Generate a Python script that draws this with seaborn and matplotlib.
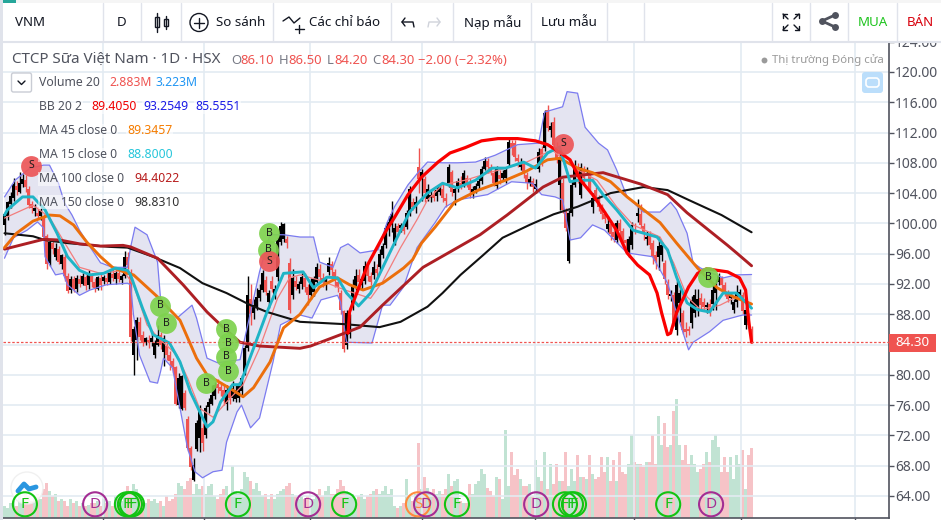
import matplotlib
matplotlib.use('Agg')
import numpy as np
import seaborn as sns
from matplotlib import pyplot as plt
from matplotlib.patches import Rectangle, Circle, FancyBboxPatch

# daily candles
opens = [99.8,101,102.6,103.4,105,104.2,105.2,105.7,104.6,102.6,
         101.6,101.4,101,100.8,98.4,94.8,97.4,95.6,96.6,94.6,
         95.6,93,91.2,92.6,91.3,92.6,92,92.9,91.8,93.2,
         92.3,91.4,92.8,92.4,92.8,92.2,93.3,92.6,93.4,92.5,
         93,95.6,93.6,82.6,84.6,87,85.2,84.4,84.6,84.4,
         82.6,84,85.2,83,83.8,82.6,81.8,81,76,75.5,
         77.6,74.2,70.3,66.1,70.2,71.6,73,72,75.8,76.2,
         77.2,78.8,78.4,78,76.2,78,77,76.8,77,77.8,
         80.4,83.6,90,88.2,89,90.2,91.2,92.5,89.6,92.4,
         90.4,92.9,97.6,98,98,94.8,90.5,92.4,91.4,92,
         92.8,91.6,90.6,91,92.3,94,92.8,91.8,93.6,94.6,
         93.6,92.2,90.8,88.4,83.9,85.4,89,91.6,93.2,91.8,
         92.4,94.2,93,93.2,94,94.2,95.8,97.2,99.2,99.8,
         97.6,99.6,99.4,99.6,99.5,101.4,102.8,102.4,107.5,105.8,
         105.8,103.2,103.3,103.8,103.6,104.2,104.6,103.4,105.1,106.8,
         104,104.6,105.4,105.2,106,105.2,104.2,104.4,105,105.6,
         107.2,108.2,107.4,106.6,105,106.4,106,106,107.8,110.6,
         110.6,108.6,107.4,107.8,106.4,105.4,105.6,104.6,107.2,109.8,
         110,115,112.4,113.4,110,105.1,105.4,101.8,95,101.4,
         105.1,107.4,103.8,107.2,106.8,106.4,102.2,104.4,103.4,102.2,
         101.2,99.2,99.9,98.8,97.8,100,99,97.8,96.2,97.2,
         99.8,101,101.2,99.6,98,98.4,97.4,95.8,95.6,95.8,
         94.8,92,90.4,90.6,85.9,89.5,88.2,86,86,86.8,
         88.2,89,90.2,89.6,89,89.4,89.4,90.8,92.3,92.8,
         91.8,90.8,90.2,88.6,89.6,90.7,90.6,86.6,88,86.1]
closes = [101.2,102.8,103.6,105.2,104.4,105.4,105.9,104.8,102.4,102,
          102,101,101.6,98.2,94.6,97.6,96.6,96.8,94.9,95.8,
          93,91.1,92.6,91.4,92.8,92,93,91.7,93.4,92.2,
          91.5,92.9,91.8,92.9,92.2,93.4,92.8,93.5,92.6,93.1,
          95.6,94.5,85,86,87.2,85,84.2,84.8,84.4,84.8,
          84.2,85.2,84,84.8,82.6,81.8,81,76.2,79.6,79.8,
          75.6,70.4,67.8,68.1,73.6,75.4,71,75.6,76.4,77.4,
          78.6,78.2,77.8,76.6,78,77,78.2,78,78.6,79.6,
          83.5,90.5,88,89.2,90.3,91.2,93.4,91,90.8,91.4,
          91.4,97.8,99.6,99.9,97.4,88.6,92.8,91.6,92,92.9,
          91.6,90.6,92.4,92.6,94.3,92.9,92.2,92.8,94.8,93.8,
          92.4,91.6,88.6,83.4,88.1,87.6,91.8,93,92.2,92.6,
          94.4,93,92.2,94.2,93.4,96,97,99.4,100.2,101.2,
          99.4,98.9,99.8,99,101.4,104.6,102.2,102.8,105.8,106.8,
          104,104.6,103.8,103.4,104.4,104.8,103.4,103,107.4,104.2,
          104.6,105.6,105,106.6,105.2,104.4,104.6,105,105.6,107.2,
          108.2,107.4,106.8,105.4,107.2,105.8,106.6,107,110.8,110,
          108.8,108.2,108,106.6,105.4,105.8,104.8,105.2,109.4,108.2,
          114.6,112.6,112.9,110.4,108.6,108.6,101.8,99.4,101.4,105.1,
          107.5,106.4,107.5,106,107,104.6,103.4,103.4,102.2,101.2,
          100.6,99.9,98.6,98.2,100,99,97.8,97.4,98,99.8,
          99.6,101.4,99.8,98.6,98.2,97.2,95.6,95,97,97.2,
          92.6,90.6,90.7,87,91.9,90.8,85.9,85.6,85.8,89.9,
          90.6,90,89.2,89,89.2,88.4,91.2,92.1,93,91.8,
          90.8,90,90.8,89.6,91,91,88.4,88.6,86.6,84.3]
highs = [101.5,103,104.2,106,105.6,106.8,106.5,106.4,105,103,
         102.5,102.2,102,101.2,98.6,97.8,98,97.4,97,96,
         96,93.4,93,93,93.2,93.2,93.4,93.2,93.9,93.4,
         92.8,93,93.4,93.2,93.6,93.8,94,93.8,93.8,93.3,
         96.4,96.2,94,86.4,87.6,87.6,85.8,85,85.2,85.4,
         84.6,86.6,85.6,85.2,84.2,83.2,82.2,81.2,80.2,80,
         78,74.5,70.6,69,74,76,73.6,76,77,78.6,
         79,79.4,79,78.8,78.6,78.6,79.2,78.8,79,80,
         84,93,92,90,91.5,92,93.8,93,91.2,93,
         91.8,98.2,100.2,100,98.4,95.4,94,93,92.4,93.4,
         93.4,92,92.8,93,94.8,94.6,93.4,93,95.6,95,
         94,92.6,91.2,88.6,88.6,88,92.6,94,94,93,
         95,95,93.6,95,94.6,96.6,97.4,99.8,101,103,
         100,100,100,100,101.8,105,103.4,103.6,110,107.2,
         106.2,105.2,104.4,104.4,105,105.2,105.2,104,107.8,107,
         105,106,106.2,107,106.4,106,105,105.4,106,107.6,
         108.8,108.6,107.8,107,107.6,107,107,107.4,111.4,111,
         111,109.2,108.6,108.2,106.8,106.2,106,105.8,110,110.2,
         115,115.6,113.4,114,110.8,109.4,106,102,101.8,105.6,
         108.4,108,108,107.6,107.4,106.6,104,104.8,103.8,102.6,
         101.6,101,100.4,100,100.4,100.6,99.4,98,98.4,100.2,
         100,103.2,102.6,100,99,99,97.8,96.4,98.2,97.6,
         95.2,92.6,91.2,91,92.4,91.4,88.6,87,86.4,90.4,
         91.4,91.4,90.8,90.2,89.6,90,91.8,92.6,93.4,93,
         92.2,91.2,91,90,91.8,91.4,91,89,88.2,86.5]
lows = [98.5,100.5,102,103,103.8,104,104.8,104.2,102,101.4,
        101,100.6,100.4,97.8,94,94.4,96,95.2,94.6,94,
        92.4,90.8,90.8,91,91,91.6,91.8,91.2,91.4,91.6,
        91,91.2,91.2,92,91.9,92,92.4,92,92.2,92,
        92.8,94,84.5,80,82,84.6,83.8,84,83.6,83.8,
        82.2,83.8,83.4,81.2,82,80.6,80.2,76,75.6,75.3,
        75.4,70,67.4,66,70,69.8,70,71.6,75,76,
        76.8,77.6,77.2,76,75.4,76.2,76.6,76.4,76.4,77.4,
        80,83.2,86.6,87.4,88.6,89.8,91,90.6,88.8,91,
        90,92.4,97.2,97.6,96.8,88.2,90,91.2,90.8,91.4,
        91,89.2,90,90.4,92,92.4,91.6,91.2,93.2,93,
        91.6,91,88,83,83.4,84.8,88.6,91.2,91.6,91.2,
        92,92.4,91.8,92.6,93,93.8,95.4,96.8,98.4,98.8,
        97.2,98.4,98.9,98.6,99.2,101,101.8,101.4,104,103,
        102.8,103,102.8,103,103,103.8,102.8,102.2,104.8,103.6,
        102.4,104.2,104.6,104.8,104.8,103.4,103.4,104,104.6,105.2,
        107,106.6,106.4,105,104.6,105.2,105.6,105.4,107.4,109,
        108.2,107.4,107,106,104.6,105,104.2,104,106.8,107.6,
        109.6,112.2,111.4,110,108,101.8,101.4,99,94.8,101,
        104.8,105.4,103.4,105.4,106.4,104,101.4,103,101.6,100.6,
        100,98.8,97.8,97.6,97.4,98.4,97,96.8,95.6,96.6,
        98.6,100.2,99.4,97.8,97.2,96.6,94.6,94,93.8,95,
        92,90,89.8,86.4,85.2,87,85.4,85,85.2,86.2,
        87.6,87.8,88.6,88.4,88.2,87.8,88.6,88.6,91.8,91.2,
        90.4,89.6,89.4,88.2,89,90.4,88,86,86.2,84.2]
# volume in millions
volumes = [.5,.4,.6,.7,.5,.9,.8,1.0,.9,.7,
           .9,1.0,.8,1.2,1.45,1.1,.9,1.0,.7,.8,
           .7,.5,.8,.6,.7,.5,.6,.5,.55,.6,
           .6,.7,.5,.8,.6,.7,.5,.9,.8,.7,
           1.0,1.3,1.1,1.4,1.2,.9,.7,.6,.8,.7,
           .8,.6,.7,.5,.9,.7,.8,1.0,1.45,1.3,
           1.2,1.5,1.65,1.0,1.4,1.2,1.3,1.0,1.3,1.4,
           .9,.8,1.0,1.2,1.3,.9,2.15,1.1,1.0,1.2,
           1.9,1.7,1.5,1.2,1.45,1.1,.9,1.0,.8,1.0,
           .8,1.0,1.1,1.2,1.3,1.45,1.0,.9,.8,.9,
           .8,.9,.7,.8,1.0,1.2,.9,1.1,1.3,1.0,
           1.0,1.2,1.55,1.3,1.1,1.0,1.0,.8,.9,1.0,
           .8,.9,1.0,1.1,1.2,1.0,1.1,1.3,1.0,1.2,
           .5,.4,.5,.6,1.6,.9,.7,1.0,3.1,1.2,
           1.7,1.25,1.0,1.2,1.0,1.1,1.0,1.2,1.8,1.3,
           1.5,1.6,.7,.6,.6,1.4,1.0,1.4,1.5,2.0,
           1.8,1.25,1.1,.9,1.7,1.6,.8,3.6,1.3,2.7,
           1.75,2.0,1.6,1.3,1.3,1.4,.9,2.4,1.7,1.5,
           2.7,1.2,2.2,1.4,2.2,1.5,1.5,2.7,1.3,2.0,
           1.5,2.6,1.7,1.7,1.6,2.6,1.8,1.6,1.7,2.5,
           1.9,2.5,1.5,2.4,1.5,2.7,1.9,1.8,2.2,3.4,
           2.3,2.2,2.2,2.1,2.3,2.3,3.4,2.2,4.2,3.0,
           3.9,2.9,3.0,4.4,4.9,3.0,2.4,3.0,2.2,2.6,
           2.2,1.9,2.0,2.2,2.7,2.3,3.2,3.4,2.9,1.9,
           2.5,1.9,2.5,1.6,2.6,2.2,2.8,1.2,2.6,2.883]

# indicator lines: bar number, value
ma150_bars = [0,9.5,13.5,21,35,41,49.5,58.5,66,74,82,87.5,98.5,113,125,132,141,146,152,159.5,166,175,183,191,202,213,221,228,239,249]
ma150_vals = [98.7,98.3,97.8,97.4,96.9,96.8,95.6,94.1,92.1,90.8,89.2,88.3,87.0,86.7,86.3,87.0,89.0,90.8,93.2,95.8,98.1,99.8,101.2,102.2,104.0,104.8,104.4,103.1,101.1,98.83]
ma100_bars = [0,5,13,18.5,25,32,39.5,42,51,59.5,67.5,72,78.5,85,98.5,102,112,118.5,126,139.5,151,158.5,167.5,179.5,186,199.5,212,221,227.5,241,244,249]
ma100_vals = [96.6,97.1,97.9,97.8,97.3,97.0,97.1,96.9,95.4,91.9,88.3,86.6,84.3,83.8,83.5,83.8,85.3,86.3,89.2,94.2,96.8,98.5,101.1,104.8,106.1,106.7,105.2,103.8,101.4,97.1,96.1,94.4]
ma45_bars = [0,4,9.5,15,18.5,23,27.5,32,36,41,43,51,58.5,64,67.5,76,79.5,83,88.5,93,98.5,105,111,115,119.5,126,133,136,139,143.5,150,158,167,173.5,181,185,191,196,202,207.5,213,218.5,224,231,237.5,243,249]
ma45_vals = [96.8,98.7,100.3,101.1,101.0,99.8,97.5,95.6,94.2,93.4,93.2,90.3,87.2,82.2,80.0,78.0,77.1,78.3,81.7,86.2,88.0,91.6,92.8,91.9,91.2,92.1,94.1,95.2,97.4,99.5,102.8,104.4,105.7,106.8,108.4,108.6,107.3,106.7,105.5,103.5,101.8,100.1,97.4,94.1,91.5,90.3,89.35]
ma15_bars = [0,1,6,9.5,13.5,17.5,21,25,28.5,33,37,41,42,46,49.5,55,58.5,62,67.5,69.5,72,76,78.5,83,87.5,93,99.5,103,107.5,111,114,118,122,128.5,135,141,146,151,157,162.5,167,173,177,181,185,188.5,191,196,199.5,204,209.5,217.5,221,224,227.5,231,235,239.5,244,249]
ma15_vals = [101.1,101.8,103.5,103.5,101.8,98.7,95.6,93.8,93.2,93.4,94.1,93.8,93.2,88.8,85.3,84.2,81.7,77.7,73.1,73.8,76.4,78.7,78.7,83.5,88.3,93.4,93.6,91.5,92.9,92.8,90.8,89.1,90.8,96.2,101.5,104,105.3,104.7,105.7,107.3,107.3,108.1,107.3,109.3,110.1,105.5,105.7,105.7,103.8,101.8,99.1,98.2,96.5,92.9,89.5,88.6,88.3,90.8,90.8,88.8]
bb_mid_bars = [0,9.5,15,19.5,25,32,39.5,43,47.5,51,57.5,61,65,69.5,74,79.5,85,91,95,98.5,105,113.5,122,126,132,137.5,141,146,153.5,162.5,173.5,182.5,190,197.5,204,209.5,218.5,223,227.5,232,238.5,244,249]
bb_mid_vals = [100.7,102.4,100.8,97.8,94.2,93.4,93.8,91.9,86.6,85,82.6,79.6,75.6,74.4,76.4,78.7,83.5,90.1,92.8,93.2,92.5,91.2,90.1,92.3,96.8,100.5,103.1,105.1,105.7,106.8,108,109.7,107.3,105.7,102.2,99.8,98.2,94.8,90.3,88.6,89.2,90.3,89.4]
bb_up_bars = [0,3.5,8.5,13,15,18,20,22.5,25,28.5,32,36,41,42,43.5,47.5,51,52,57.5,62.5,64,67.5,71,78.5,85,88.5,93,98.5,103,105,109.5,112,114.5,118.5,124.5,127.5,130,134.5,138,141,146,151,157,163.5,171,178,180,186,187.5,191,193.5,198,201,204,207.5,213,218.5,222,224,227.5,229.5,232,239.5,244,249]
bb_up_vals = [103.5,105.7,107.3,107.7,107.7,105.3,102.7,101.1,99.1,96.9,94.8,94.2,94.2,96.8,99.5,98.5,94.9,90.1,87.5,89.2,87.5,82.2,81.6,82,93.6,98.5,98.5,98.2,98.2,94.9,94.2,96.8,97.3,96.1,96.5,100.1,102.2,105.1,106.8,108.1,108,108,108.1,109,110.4,110.6,114.7,115.4,117.4,117.2,112.7,110.6,109.7,107.1,103.5,101.5,101.5,102.8,101.8,98.7,94.8,94.1,92.8,93.2,93.25]
bb_low_bars = [0,3,7.5,11,13,13.5,17,19.5,21,25,28.5,34,41,42,43,45,48.5,51,52,53,56,61,63.5,66,69.5,72.5,74,77.5,79,82,85,89.5,92,94,98.5,102.5,105.5,111,112,114,122.5,126,128.5,133,137.5,143.5,147,151,161,169,176,179,183.5,186,188.5,192,196,200,207.5,216,221,224,228,229.5,235,239.5,246,249]
bb_low_vals = [95.4,98.1,99.1,100.2,99.4,95.6,93.2,93.4,91.9,90.5,91.2,91.9,92.1,91.9,87.9,82.6,79.1,78.9,80.4,82.2,80.9,70.3,67.2,66.4,67.2,67.4,71.1,75.1,76,73,74.3,81.7,86.6,87,87.9,87.5,89.9,90.5,89.6,84.3,84.2,89.2,89.2,91.6,96.8,100.1,102.2,103.1,103.8,105.5,105.3,103.8,103.5,103.1,97.8,98.1,99.8,99.1,96.1,95.6,92.1,88.2,83.3,84.3,85.7,87.2,87.9,87.9]
drawn_bars = [114.5,115,117.5,121,127,130,134.5,139,144.5,148.5,153.5,159,164.5,171,177,181,185,188.5,192,196,199.5,204,207.5,211,215,217.5,219,221,222,224,228,231,234,241,245,247,248,249]
drawn_vals = [85.5,88.3,90.9,94.5,98.9,100.8,103.8,106.1,108.1,109.3,110,110.9,111.2,111.2,110.9,110.4,109.4,108.4,105.7,103.8,101.8,99.1,96.1,94.5,93.2,90.8,88.2,85.3,85.5,88.2,91.6,93.4,94,93.6,92.8,91.2,87.2,84.3]

# buy / sell signals
sig_bars = [8.8,51.8,53.8,73.8,74.5,73.8,74.5,67.2,88.2,87.8,88.2,186.2,234.5]
sig_vals = [107.6,89.1,86.8,86.0,84.2,82.4,80.5,78.9,98.7,96.5,95.0,110.5,92.9]
sig_text = ['S','B','B','B','B','B','B','B','B','B','S','S','B']
# draw order in the screenshot
sig_order = [0,1,2,3,5,4,6,7,9,8,10,11,12]

# events along the bottom
event_bars = [6.8,30.2,40.8,41.8,42.5,77.8,101.2,113.2,137.8,140.5,150.8,177.2,186.8,188.8,189.8,221.2,235.5]
event_text = ['F','D','F','F','F','F','D','F','S','D','F','D','F','F','F','F','D']
event_level = 62.9

price_ticks = list(range(64, 128, 4))
month_ticks = [32.8,66.5,101.8,139.2,176.8,209.8,245.5,283.5]
last_close = 84.30

sns.set_theme(style='white')
plt.rcParams['font.family'] = ['Noto Sans', 'DejaVu Sans']

RED = '#ef5350'
fig = plt.figure(figsize=(9.41, 5.2), dpi=100, facecolor='white')
pos = [3/941, (520-518)/520, 886/941, 477/520]
vol = fig.add_axes(pos, zorder=1)
ax = fig.add_axes(pos, zorder=2)
ax.patch.set_alpha(0)

bars = np.arange(len(closes))
direction = ['up' if c >= o else 'down' for o, c in zip(opens, closes)]

# one bar per day, the width has to close the gap between days
vol.bar(bars, volumes, width=1.0, lw=0,
        color=['#c1e3d3' if d == 'up' else '#f6c3c7' for d in direction])
vol.set_xlim(-0.5, 294.8)
vol.set_ylim(0, 19.6)
vol.set_xticks([])
vol.set_yticks([])
sns.despine(ax=vol, left=True, right=True, top=True, bottom=True)

# bollinger cloud
ax.fill(bb_up_bars + bb_low_bars[::-1], bb_up_vals + bb_low_vals[::-1],
        color='#e4e4f1', lw=0, zorder=1)

# candles
for i in bars:
    col = 'black' if closes[i] >= opens[i] else RED
    ax.vlines(i, lows[i], highs[i], color=col, lw=1, zorder=2)
    ax.bar(i, abs(closes[i]-opens[i]), bottom=min(opens[i], closes[i]), width=0.95, color=col, lw=0, zorder=2)

def line(xs, ys, color, lw):
    sns.lineplot(x=xs, y=ys, color=color, lw=lw, sort=False, estimator=None, ax=ax, zorder=3)

line(bb_up_bars, bb_up_vals, '#7b7bf0', 0.9)
line(bb_low_bars, bb_low_vals, '#7b7bf0', 0.9)
line(bb_mid_bars, bb_mid_vals, '#f27d7d', 0.9)
line(ma150_bars, ma150_vals, '#111111', 1.5)
line(ma100_bars, ma100_vals, '#ad1f24', 2.1)
line(ma45_bars, ma45_vals, '#ec6f0c', 2.1)
line(ma15_bars, ma15_vals, '#1fb4c6', 2.1)
line(drawn_bars, drawn_vals, '#fa0000', 2.3)

ax.axhline(last_close, color=RED, lw=0.9, ls=(0, (2, 1.5)), zorder=3)

for k in sig_order:
    c = '#7ed24e' if sig_text[k] == 'B' else '#ec5658'
    sns.scatterplot(x=[sig_bars[k]], y=[sig_vals[k]], s=225, color=c, alpha=0.92, edgecolor=c, linewidth=0, ax=ax, zorder=5)
    ax.text(sig_bars[k], sig_vals[k], sig_text[k], ha='center', va='center', fontsize=7.5, color='#1c1c1c', zorder=6)

ax.set_xlim(-0.5, 294.8)
ax.set_ylim(61.09, 124.09)

event_colors = {'F': '#12c312', 'D': '#a32d93', 'S': '#ff8a3c'}
for b, t in zip(event_bars, event_text):
    ax.scatter([b], [event_level], s=300, facecolors='none', edgecolors=event_colors[t], linewidths=1.5, zorder=6, clip_on=False)
    ax.text(b, event_level, t, ha='center', va='center', fontsize=11, color=event_colors[t], zorder=6)

ax.set_xticks(month_ticks)
ax.set_xticklabels([])
ax.set_yticks(price_ticks)
ax.set_yticklabels(['%.2f' % p for p in price_ticks], fontsize=10, color='#50535e')
ax.yaxis.tick_right()
ax.tick_params(axis='y', length=3.5, width=1, color='#50535e', pad=1, right=True)
ax.tick_params(axis='x', length=2, width=1, color='#50535e', bottom=True)
ax.grid(True, color='#e3ebf2', lw=1.2, zorder=0)
ax.set_axisbelow(True)
for side in ['left', 'top']:
    ax.spines[side].set_visible(False)
for side in ['right', 'bottom']:
    ax.spines[side].set_color('#50535e')
    ax.spines[side].set_linewidth(1.2)

# page chrome in pixel coordinates
ui = fig.add_axes([0, 0, 1, 1], zorder=10)
ui.set_xlim(0, 941)
ui.set_ylim(520, 0)
ui.axis('off')
ui.patch.set_alpha(0)

# logo sits under the event rings
ax.add_patch(Circle((27, 488), 16, fc='white', ec='#eeeeee', lw=1, alpha=0.85, transform=ui.transData, zorder=4, clip_on=False))
ax.plot([18, 24, 29, 36], [491, 484, 489, 487], color='#2a96e0', lw=3.5, solid_capstyle='round',
        transform=ui.transData, zorder=4, clip_on=False)

ui.add_patch(Rectangle((0, 0), 941, 41, color='white', lw=0))
ui.add_patch(Rectangle((0, 0), 941, 3, color='#f5f5f5', lw=0))
ui.add_patch(Rectangle((0, 0), 16, 3, color='#26a69a', lw=0))
ui.add_patch(Rectangle((0, 0), 3, 520, color='#e0e3eb', lw=0))
ui.plot([3, 941], [41.5, 41.5], color='#e0e3eb', lw=1.5)
for sx in [103, 141, 181, 273, 391, 453, 531, 607, 644, 772, 810, 848, 897]:
    ui.plot([sx, sx], [3, 41], color='#e0e3eb', lw=1)

tb = dict(va='center', fontsize=9.6, color='#131722')
ui.text(15, 22, 'VNM', fontweight='bold', **tb)
ui.text(117, 22, 'D', **tb)
ui.text(216, 22, 'So sánh', **tb)
ui.text(309, 22, 'Các chỉ báo', **tb)
ui.text(464, 22, 'Nạp mẫu', **tb)
ui.text(541, 22, 'Lưu mẫu', **tb)
ui.text(858, 22, 'MUA', va='center', fontsize=9.6, color='#1fc41f')
ui.text(907, 22, 'BÁN', va='center', fontsize=9.6, color='#d8000c')

# toolbar icons
k = dict(color='#131722', lw=1)
ui.plot([157, 157], [13, 32], **k)
ui.add_patch(Rectangle((155, 17), 4, 10, fc='white', ec='#131722', lw=1))
ui.plot([166, 166], [16, 29], **k)
ui.add_patch(Rectangle((164, 19), 4, 7, fc='white', ec='#131722', lw=1))
ui.add_patch(Circle((199, 22.5), 9, fc='none', ec='#131722', lw=1))
ui.plot([194, 204], [22.5, 22.5], **k)
ui.plot([199, 199], [17.5, 27.5], **k)
ui.plot([283, 289, 294, 300], [21, 17, 23, 18], **k)
ui.plot([299, 299], [25, 33], **k)
ui.plot([295, 304], [29, 29], **k)
ui.plot([402, 413, 414], [22, 22, 27], **k)
ui.plot([405, 402, 405], [18, 22, 26], **k)
g = dict(color='#d0d3db', lw=1)
ui.plot([440, 429, 428], [22, 22, 27], **g)
ui.plot([437, 440, 437], [18, 22, 26], **g)
for cx, cy, dx, dy in [(783, 14, 1, 1), (799, 14, -1, 1), (783, 30, 1, -1), (799, 30, -1, -1)]:
    ui.plot([cx, cx+4*dx], [cy, cy], **k)
    ui.plot([cx, cx], [cy, cy+4*dy], **k)
    ui.plot([cx, cx+5*dx], [cy, cy+5*dy], **k)
ui.plot([822, 835], [21, 15], color='#50535e', lw=2)
ui.plot([822, 835], [21, 27], color='#50535e', lw=2)
ui.scatter([822, 835, 835], [21, 15, 27], s=25, color='#50535e', lw=0)

# chart header
ui.text(12, 59, 'CTCP Sữa Việt Nam · 1D · HSX', va='center', fontsize=10.9, color='#50535e')
head = [(231, 'O', '#787b86'), (240, '86.10', RED), (279, 'H', '#787b86'), (288, '86.50', RED),
        (327, 'L', '#787b86'), (334, '84.20', RED), (372, 'C', '#787b86'), (381, '84.30', RED),
        (418, '−2.00 (−2.32%)', RED)]
for hx, t, c in head:
    ui.text(hx, 60, t, va='center', fontsize=9.4, color=c)
ui.scatter([764], [60], s=18, color='#9a9a9a', lw=0)
ui.text(772, 60, 'Thị trường Đóng cửa', va='center', fontsize=8.2, color='#9a9a9a')

ui.add_patch(FancyBboxPatch((864, 74), 17, 17, boxstyle='round,pad=2,rounding_size=3', fc='#bbdefb', ec='none'))
ui.add_patch(FancyBboxPatch((866, 78), 13, 9, boxstyle='round,pad=0,rounding_size=3', fc='none', ec='white', lw=1.2))
ui.add_patch(FancyBboxPatch((11.5, 73), 20, 19, boxstyle='round,pad=0,rounding_size=2', fc='white', ec='#c9ccd4', lw=1))
ui.plot([18, 21.5, 25], [81, 84.5, 81], color='#131722', lw=1)

# legend block
white = dict(facecolor='white', alpha=0.55, pad=0.5, lw=0)
rows = [
    (83, [(39, 'Volume 20', '#50535e'), (109, '2.883M', RED), (156, '3.223M', '#2196f3')]),
    (107, [(39, 'BB 20 2', '#50535e'), (91, '89.4050', '#f00000'), (143, '93.2549', '#1a1ae6'), (195, '85.5551', '#1a1ae6')]),
    (131, [(39, 'MA 45 close 0', '#50535e'), (127, '89.3457', '#f57c00')]),
    (155, [(39, 'MA 15 close 0', '#50535e'), (127, '88.8000', '#26c6da')]),
    (179, [(39, 'MA 100 close 0', '#50535e'), (134, '94.4022', '#b71c1c')]),
    (202, [(39, 'MA 150 close 0', '#50535e'), (134, '98.8310', '#333333')]),
]
for ry, parts in rows:
    for px, t, c in parts:
        ui.text(px, ry, t, va='center', fontsize=8.8, color=c, bbox=white)

# last price flag
ui.add_patch(Rectangle((889, 334), 47, 18, color=RED, lw=0))
ui.text(912.5, 343, '84.30', ha='center', va='center', fontsize=9.6, color='white', fontweight='bold')

fig.savefig('out.png', dpi=100)
